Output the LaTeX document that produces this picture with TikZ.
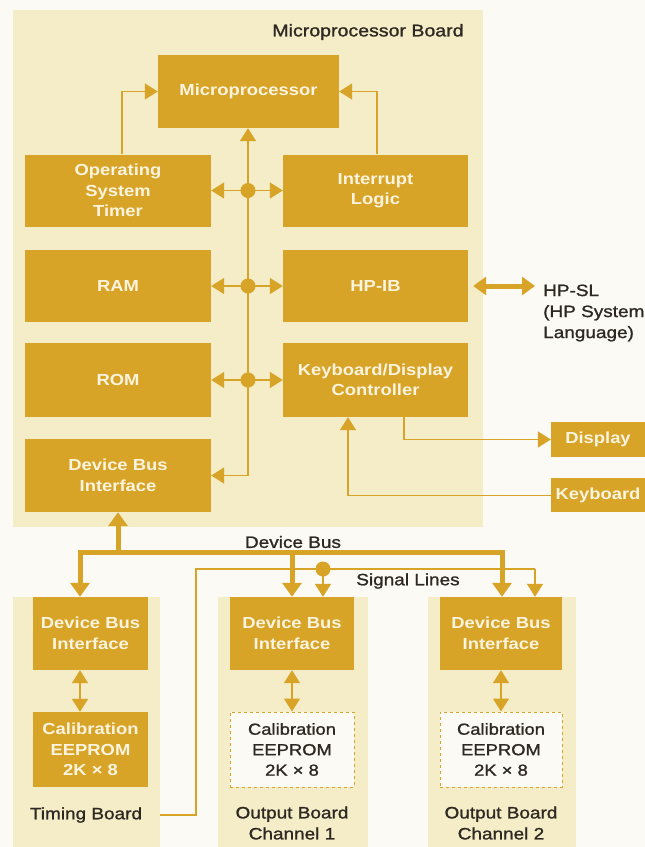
\documentclass[tikz,border=0pt]{standalone}
\usepackage{fontspec}
\setmainfont[FakeStretch=1.15]{Liberation Sans}
\newfontfamily\labelfont[FakeStretch=1.15, FakeBold=1.2]{Liberation Sans}
\usetikzlibrary{arrows.meta,positioning}

\definecolor{gold}{RGB}{216,164,40}
\definecolor{cream}{RGB}{245,236,200}
\definecolor{paper}{RGB}{251,250,245}
\definecolor{ink}{RGB}{46,40,34}
\definecolor{boxtext}{RGB}{252,244,222}

\begin{document}
\begin{tikzpicture}[x=1pt, y=-1pt,
    blk/.style={fill=gold, text=boxtext, font=\fontsize{16}{20.5}\selectfont\bfseries,
        align=center, inner sep=0pt, minimum width=186pt, minimum height=72pt},
    eep/.style={fill=paper, draw=gold, dashed, line width=1pt, text=ink,
        font=\labelfont\fontsize{16}{20.5}\selectfont, align=center, inner sep=0pt},
    lbl/.style={text=ink, font=\labelfont\fontsize{16.5}{21}\selectfont, align=center, inner sep=0pt},
    wire/.style={gold, line width=1.6pt, -{Triangle[length=13pt,width=16pt]}},
    both/.style={gold, line width=1.6pt, {Triangle[length=13pt,width=16pt]}-{Triangle[length=13pt,width=16pt]}},
    bus/.style={gold, line width=5pt},
    busarrow/.style={bus, -{Triangle[length=14pt,width=19pt]}},
    dot/.style={fill=gold}]

    % Page
    \fill[paper] (0,0) rectangle (645,847);
    \useasboundingbox (0,0) rectangle (645,847);

    % Boards
    \fill[cream] (13,10) rectangle (483,527);
    \fill[cream] (13,597) rectangle (160,847);
    \fill[cream] (218,597) rectangle (368,847);
    \fill[cream] (428,597) rectangle (576,847);

    \node[lbl, font=\labelfont\fontsize{17}{21}\selectfont] (boardtitle) at (368,32) {Microprocessor Board};

    % Microprocessor board blocks
    \node[blk, minimum width=181pt, minimum height=73pt] (micro) at (248.5,91.5) {Microprocessor};
    \node[blk] (ost) at (118,190.5) {Operating\\System\\Timer};
    \node[blk, minimum width=185pt] (intr) at (375.5,190.5) {Interrupt\\Logic};
    \node[blk] (ram) at (118,286) {RAM};
    \node[blk, minimum width=185pt] (hpib) at (375.5,286) {HP-IB};
    \node[blk, minimum height=74pt] (rom) at (118,380) {ROM};
    \node[blk, minimum width=185pt, minimum height=74pt] (kdc) at (375.5,380) {Keyboard/Display\\Controller};
    \node[blk, minimum height=73pt] (dbi) at (118,475.5) {Device Bus\\Interface};

    % Outside the board
    \node[blk, minimum width=94pt, minimum height=35pt] (display) at (598,439.5) {Display};
    \node[blk, minimum width=94pt, minimum height=34pt, below=21pt of display] (keyboard) {Keyboard};
    \node[lbl, anchor=west, align=left] (hpsl) at (543,313) {HP-SL\\(HP System\\Language)};

    % Internal bus
    \coordinate (j1) at (248,190.5);
    \coordinate (j2) at (248,286);
    \coordinate (j3) at (248,380);
    \draw[wire] (j1) -- (j1 |- micro.south);
    \draw[wire] (j1) |- (dbi.east);
    \foreach \j/\l/\r in {j1/ost/intr, j2/ram/hpib, j3/rom/kdc} {
        \draw[wire] (\j) -- (\l.east);
        \draw[wire] (\j) -- (\r.west);
        \fill[dot] (\j) circle (7.5pt);
    }

    % Interrupt and timer lines
    \draw[wire] ([xshift=4pt]ost.north) |- (micro.west);
    \draw[wire] ([xshift=1.5pt]intr.north) |- (micro.east);

    % HP-IB link
    \coordinate (hpslend) at (535,286);
    \draw[bus, {Triangle[length=13pt,width=18pt]}-{Triangle[length=13pt,width=18pt]}]
        ([xshift=5pt]hpib.east) -- (hpslend);

    % Keyboard and display
    \draw[wire] ([xshift=28.5pt]kdc.south) |- (display.west);
    \draw[wire] (keyboard.west) -| ([xshift=-27.5pt]kdc.south);

    % Timing board
    \node[blk, minimum width=115pt, minimum height=73pt] (tdbi) at (90.5,633.5) {Device Bus\\Interface};
    \node[blk, minimum width=115pt, minimum height=75pt] (teep) at (90.5,749.5) {Calibration\\EEPROM\\2K × 8};
    \node[lbl] (tlbl) at (86,815) {Timing Board};
    \draw[both] ([xshift=-10.5pt]tdbi.south) -- ([xshift=-10.5pt]teep.north);

    % Output boards
    \node[blk, minimum width=124pt, minimum height=73pt] (o1dbi) at (292,633.5) {Device Bus\\Interface};
    \node[eep, minimum width=124pt, minimum height=75pt] (o1eep) at (292,749.5) {Calibration\\EEPROM\\2K × 8};
    \node[lbl] (o1lbl) at (292,823) {Output Board\\Channel 1};
    \draw[both] (o1dbi.south) -- (o1eep.north);

    \node[blk, minimum width=122pt, minimum height=73pt] (o2dbi) at (501,633.5) {Device Bus\\Interface};
    \node[eep, minimum width=122pt, minimum height=75pt] (o2eep) at (501,749.5) {Calibration\\EEPROM\\2K × 8};
    \node[lbl] (o2lbl) at (501,823) {Output Board\\Channel 2};
    \draw[both] (o2dbi.south) -- (o2eep.north);

    % Device bus
    \coordinate (busL) at (80,552);
    \coordinate (busR) at (502,552);
    \draw[bus, {Triangle[length=14pt,width=19pt]}-{Triangle[length=14pt,width=19pt]}]
        (busL |- tdbi.north) -- (busL) -- (busR) -- (busR |- o2dbi.north);
    \draw[busarrow] (o1dbi.north |- busL) -- (o1dbi.north);
    \draw[busarrow] (dbi.south |- busL) -- (dbi.south);
    \node[lbl] (buslbl) at (293,542) {Device Bus};

    % Signal lines
    \coordinate (sigsrc) at (160,815);
    \coordinate (sigcorner) at (196,569);
    \coordinate (sigdot) at (323,569);
    \coordinate (sigend) at (535,569);
    \draw[gold, line width=1.2pt] (sigsrc) -| (sigcorner) -- (sigend);
    \draw[wire] (sigdot) -- (sigdot |- o1dbi.north);
    \draw[wire] (sigend) -- (sigend |- o2dbi.north);
    \fill[dot] (sigdot) circle (7.5pt);
    \node[lbl] (siglbl) at (408,581) {Signal Lines};
\end{tikzpicture}
\end{document}
